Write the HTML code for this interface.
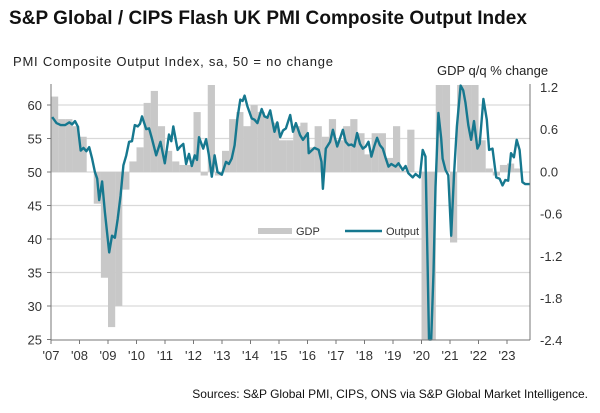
<!DOCTYPE html>
<html><head><meta charset="utf-8"><style>
body{margin:0;background:#fff;width:600px;height:408px;overflow:hidden;font-family:"Liberation Sans",Arial,sans-serif}
</style></head><body>
<svg id="s" width="600" height="408" xmlns="http://www.w3.org/2000/svg" font-family="Liberation Sans, Arial, sans-serif">
<text x="9" y="24" font-size="19" font-weight="bold" fill="#111" textLength="518">S&amp;P Global / CIPS Flash UK PMI Composite Output Index</text>
<text x="13" y="66" font-size="13" fill="#222" textLength="320">PMI Composite  Output  Index, sa, 50 = no change</text>
<text x="437" y="75" font-size="13" fill="#222">GDP q/q % change</text>
<g id="grid" stroke="#d9d9d9" stroke-width="1.2"></g>
<g id="bars" fill="#c8c8c8"></g>
<path id="line" fill="none" stroke="#16788f" stroke-width="2.4" stroke-linejoin="round"/>
<g stroke="#777" stroke-width="1">
<line x1="51" y1="84" x2="51" y2="340"/><line x1="51" y1="340" x2="530" y2="340"/><line x1="530" y1="84" x2="530" y2="340"/>
</g>
<g id="ticks" stroke="#777"></g>
<g font-size="13" fill="#333" text-anchor="end" id="ly"></g>
<g font-size="13" fill="#333" id="ry"></g>
<g font-size="13" fill="#333" text-anchor="middle" id="xl"></g>
<rect x="258" y="228" width="34" height="6" fill="#c8c8c8"/>
<text x="296" y="235" font-size="11" fill="#333">GDP</text>
<line x1="345" y1="231" x2="382" y2="231" stroke="#16788f" stroke-width="2.4"/>
<text x="386" y="235" font-size="11" fill="#333">Output</text>
<text x="588" y="398" font-size="12" fill="#111" text-anchor="end">Sources: S&amp;P Global PMI, CIPS, ONS via S&amp;P Global Market Intelligence.</text>
</svg>
<script>
var NS="http://www.w3.org/2000/svg";
function el(p,t,a,txt){var e=document.createElementNS(NS,t);for(var k in a)e.setAttribute(k,a[k]);if(txt!=null)e.textContent=txt;document.getElementById(p).appendChild(e);}
function X(yr){return 51+(yr-2007)*28.5;}
function YL(v){return 172-(v-50)*6.7;}
[60,55,50,45,40,35,30].forEach(function(v){el("grid","line",{x1:51,x2:530,y1:YL(v),y2:YL(v)});});
[60,55,50,45,40,35,30,25].forEach(function(v){el("ly","text",{x:42,y:YL(v)+5},String(v));el("ticks","line",{x1:47,x2:51,y1:YL(v),y2:YL(v)});});
var rl=["1.2","0.6","0.0","-0.6","-1.2","-1.8","-2.4"];
rl.forEach(function(t,i){var y=87+i*42.2;el("ry","text",{x:540,y:y+5},t);});
for(var i=0;i<=16;i++){var yr=(i+7)%100;el("xl","text",{x:X(2007+i),y:360},"'"+(yr<10?"0"+yr:yr));el("ticks","line",{x1:X(2007+i),x2:X(2007+i),y1:340,y2:344});}
var g=[1.07,0.75,0.75,0.65, 0.5,0.0,-0.45,-1.5, -2.2,-1.9,-0.25,0.15, 0.35,0.98,1.15,0.65, 0.3,0.15,0.1,0.1, 0.85,-0.05,1.3,-0.05, 0.3,0.75,0.85,0.65, 0.95,0.85,0.8,0.7, 0.45,0.45,0.65,0.7, 0.35,0.65,0.5,0.75, 0.45,0.65,0.75,0.55, 0.25,0.55,0.55,0.2, 0.65,0.02,0.6,0.0, -3,-3,1.3,1.3, -1.0,1.3,1.3,1.3, 0.45,0.05,-0.05,0.1, 0.12,0.05];
g.forEach(function(v,i){var x=X(2007+i/4);var y=172-v*70.5;y=Math.max(85,Math.min(340,y));var t=Math.min(y,172),h=Math.abs(y-172);el("bars","rect",{x:x,y:t,width:7.2,height:h});});
var a=[[2007,58.2],[2007.15,57.3],[2007.3,57],[2007.45,57],[2007.6,57.4],[2007.7,57.1],[2007.8,57.6],[2007.9,56.8],[2008,53.2],[2008.1,53.6],[2008.2,53.1],[2008.3,53.7],[2008.4,52],[2008.5,50],[2008.58,49],[2008.65,45.8],[2008.75,48.6],[2008.85,44],[2009,38],[2009.1,40.5],[2009.2,40.2],[2009.3,43],[2009.4,46.5],[2009.5,51],[2009.6,52.5],[2009.7,54.5],[2009.8,54.6],[2009.9,57],[2010,56.8],[2010.08,57.2],[2010.15,58.3],[2010.3,56.4],[2010.4,56.5],[2010.5,55],[2010.65,52.5],[2010.8,54.5],[2010.95,51.3],[2011.1,55.6],[2011.18,54.6],[2011.25,56.8],[2011.4,53.3],[2011.5,53.8],[2011.6,54.2],[2011.7,51.2],[2011.8,52.7],[2011.9,50.9],[2012,52.5],[2012.08,51.8],[2012.15,55.2],[2012.3,53.5],[2012.4,54.9],[2012.5,52.5],[2012.6,49.3],[2012.7,52.5],[2012.8,50.0],[2012.95,49.6],[2013.1,51.5],[2013.2,51.2],[2013.3,52.0],[2013.4,54],[2013.5,58],[2013.6,60.8],[2013.68,60.6],[2013.75,61.4],[2013.85,59.8],[2014,58],[2014.1,57.8],[2014.2,57.3],[2014.35,59.4],[2014.45,58.3],[2014.55,58.1],[2014.65,59.2],[2014.8,56.0],[2014.9,57.4],[2015,55.2],[2015.1,56.2],[2015.2,56.5],[2015.35,58.5],[2015.45,56],[2015.55,57.3],[2015.7,55.5],[2015.8,54.8],[2015.97,55.8],[2016.0,52.8],[2016.2,53.6],[2016.35,53.3],[2016.45,51.5],[2016.5,47.5],[2016.6,53.5],[2016.75,54.5],[2016.85,56.3],[2017.0,53.8],[2017.1,55],[2017.2,56.3],[2017.3,54.5],[2017.4,54],[2017.5,54.1],[2017.6,53.8],[2017.7,55.8],[2017.8,54.2],[2017.9,53.5],[2018.0,53.8],[2018.1,54.5],[2018.2,52.3],[2018.3,53.8],[2018.4,55.1],[2018.5,54],[2018.6,53.5],[2018.7,52.1],[2018.8,50.8],[2018.9,51.2],[2019.05,50.8],[2019.15,51.3],[2019.3,50.3],[2019.4,50.9],[2019.5,49.8],[2019.65,49.2],[2019.75,49.7],[2019.9,49.2],[2020.0,53.3],[2020.1,52.3],[2020.17,37],[2020.22,22],[2020.3,22],[2020.38,35],[2020.45,47.7],[2020.55,58.8],[2020.65,55],[2020.7,52],[2020.8,50.3],[2020.9,49.5],[2021.0,40.5],[2021.1,49.6],[2021.2,56.8],[2021.33,62.9],[2021.42,62.2],[2021.5,60.4],[2021.6,57],[2021.7,54.8],[2021.8,57.6],[2021.92,53.5],[2022.0,54.2],[2022.13,60.9],[2022.25,57.8],[2022.33,53.3],[2022.45,53.5],[2022.58,49.2],[2022.7,49],[2022.8,48],[2022.9,48.8],[2023.0,48.7],[2023.1,52.8],[2023.2,52.2],[2023.3,54.8],[2023.4,53.3],[2023.5,48.5],[2023.6,48.2],[2023.75,48.2]];
var d="";a.forEach(function(p,i){var v=Math.max(25,Math.min(63.3,p[1]));d+=(i?"L":"M")+X(p[0]+1/24).toFixed(1)+" "+YL(v).toFixed(1);});
document.getElementById("line").setAttribute("d",d);
</script>
</body></html>
